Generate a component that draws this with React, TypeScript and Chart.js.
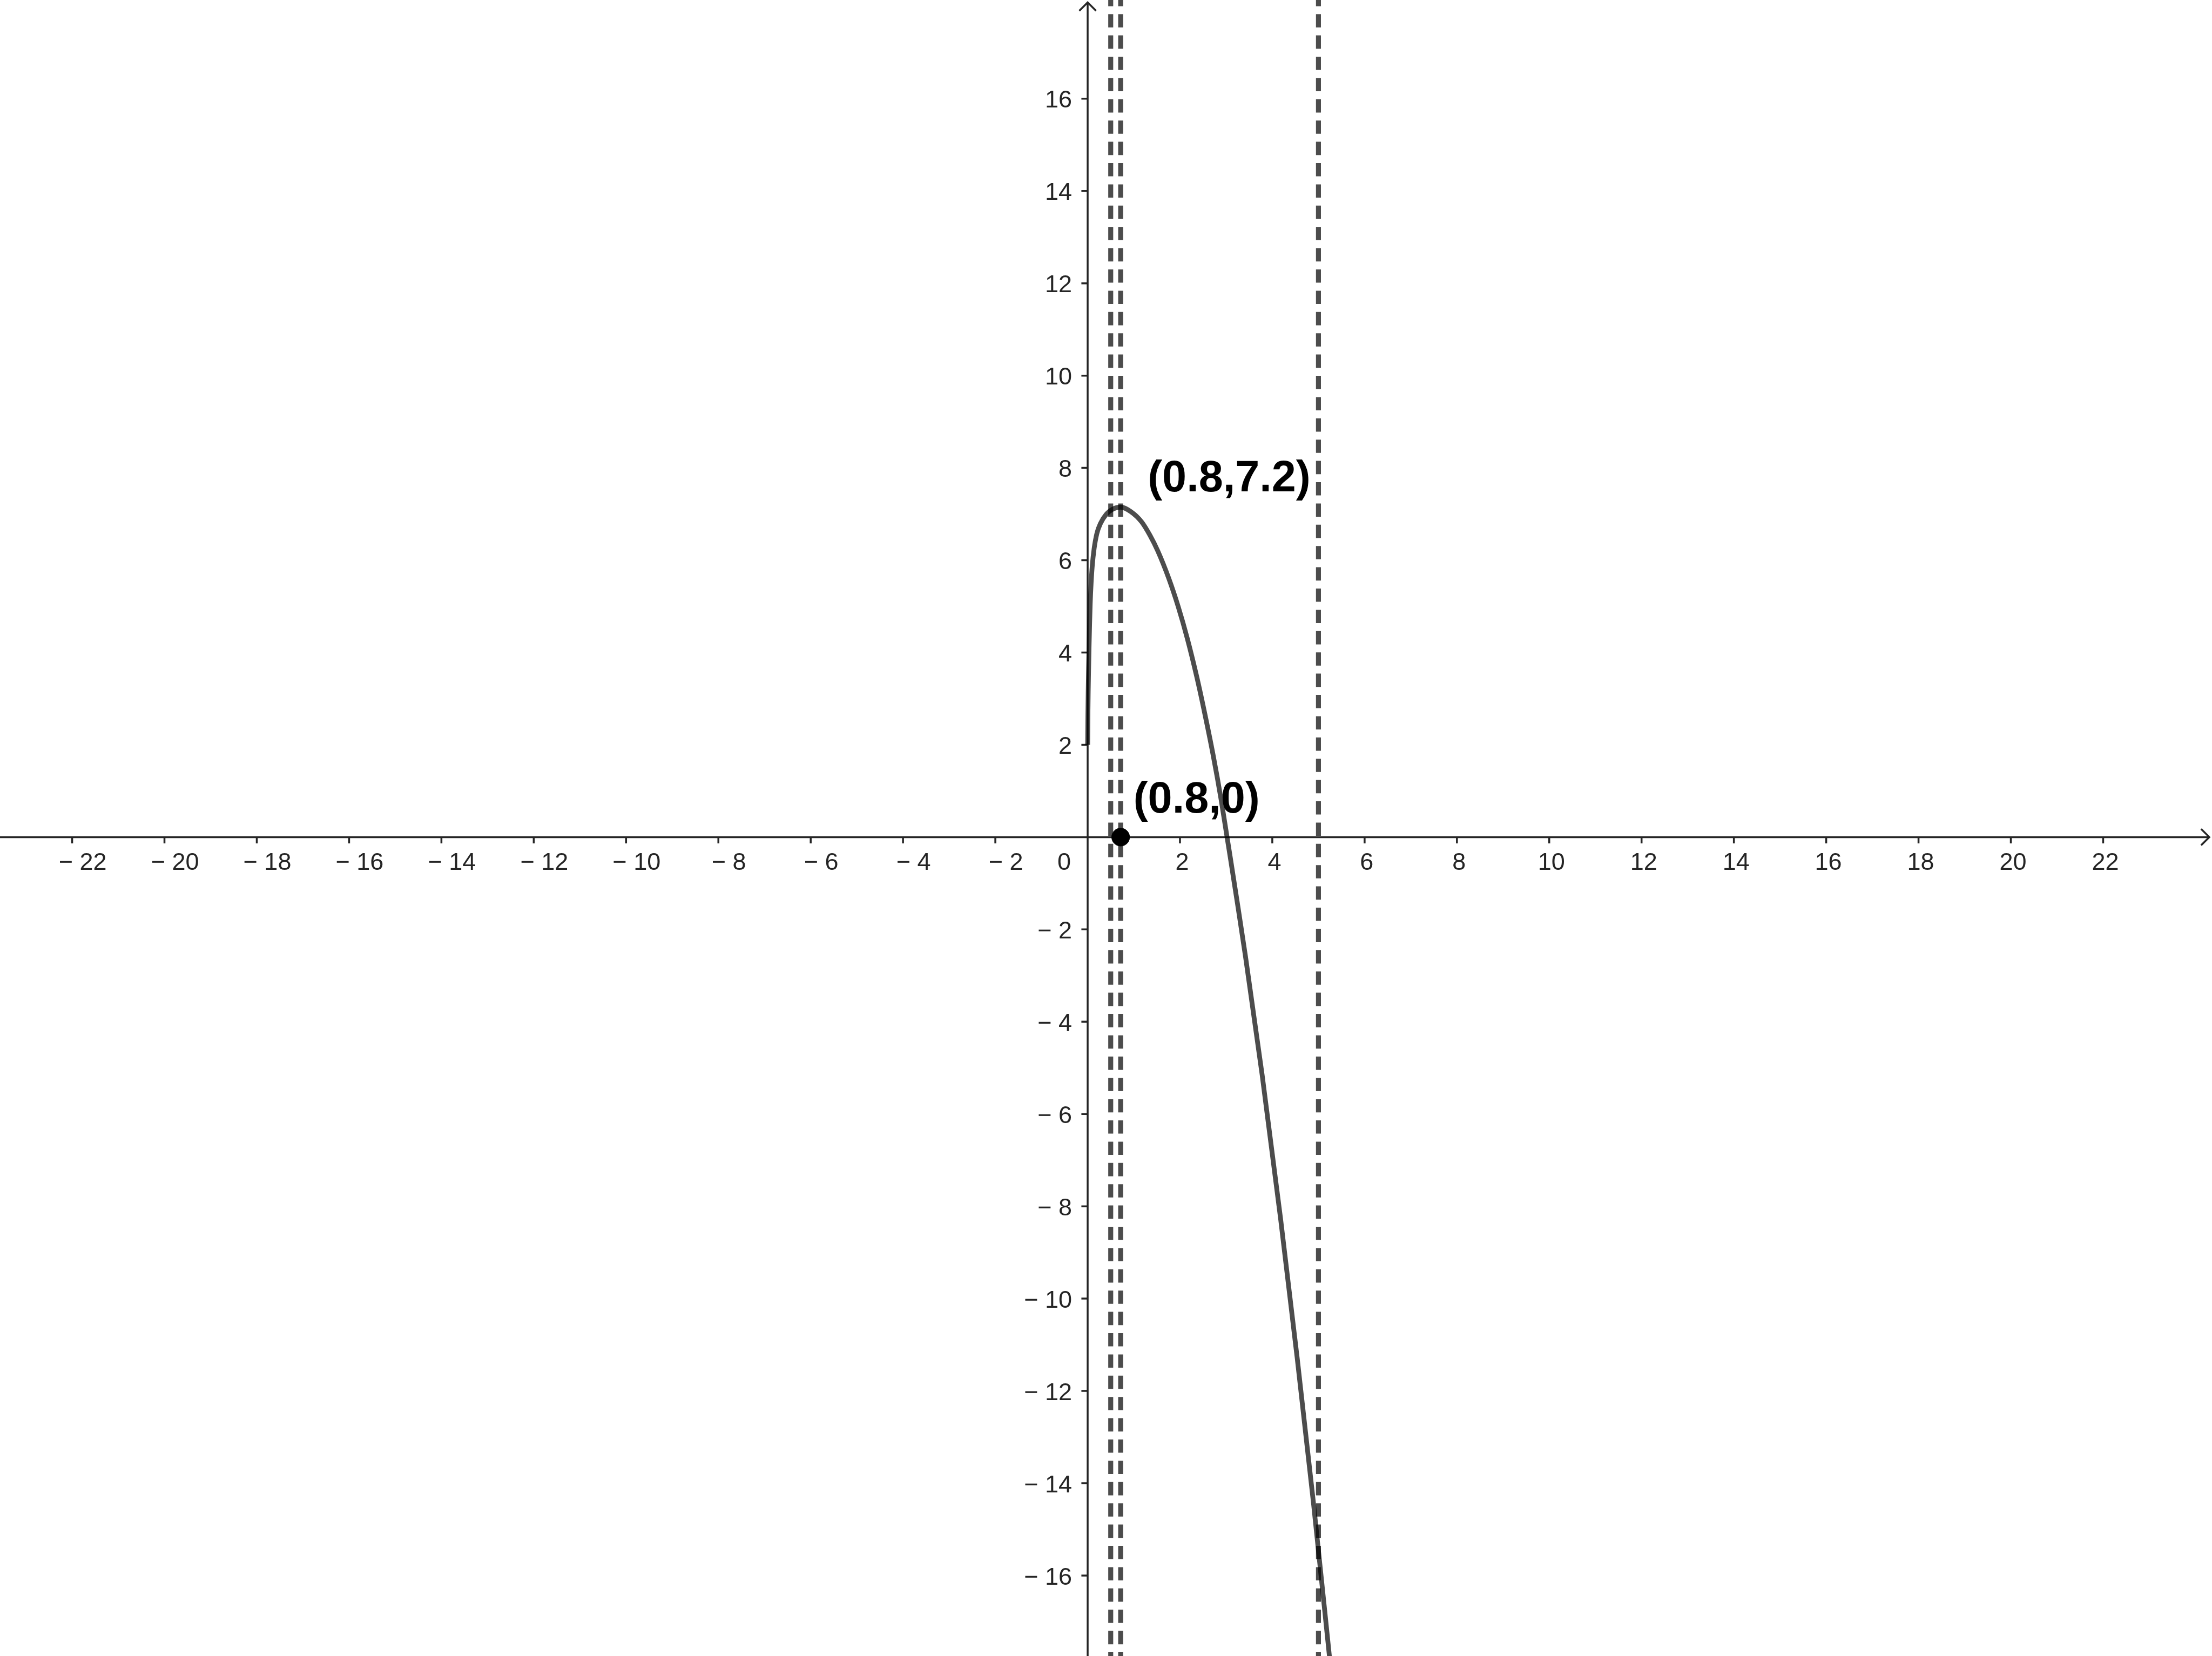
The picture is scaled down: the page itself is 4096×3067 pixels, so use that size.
import React, { useEffect, useRef } from "react";
import { Chart, registerables } from "chart.js";

Chart.register(...registerables);

// ---- data ----
const xRange = [-23.563, 24.358];
const yRange = [-17.744, 18.139];

const curveX = [0, 0.005, 0.012, 0.02, 0.03, 0.042, 0.055, 0.075, 0.1, 0.14, 0.2, 0.28, 0.4, 0.55, 0.715, 0.94, 1.17, 1.35, 1.52, 1.76, 1.96, 2.16, 2.36, 2.52, 2.72, 2.89, 3.02, 3.09, 3.23, 3.42, 3.78, 4.18, 4.54, 4.89, 5.24];
const curveY = [2, 2.6, 3.15, 3.6, 4.1, 4.6, 5.05, 5.5, 5.88, 6.25, 6.58, 6.8, 6.99, 7.11, 7.15, 7.05, 6.83, 6.54, 6.2, 5.6, 5.0, 4.3, 3.49, 2.76, 1.77, 0.82, 0.0, -0.44, -1.34, -2.59, -5.15, -8.27, -11.29, -14.41, -17.77];

const dashedLineX = [0.5, 0.715, 5.0];

const pointX = [0.715];
const pointY = [0];

const annotationText = ["(0.8,7.2)", "(0.8,0)"];
const annotationX = [0.715, 0.715];
const annotationY = [7.15, 0];

const xTicks = [-22, -20, -18, -16, -14, -12, -10, -8, -6, -4, -2, 2, 4, 6, 8, 10, 12, 14, 16, 18, 20, 22];
const yTicks = [-16, -14, -12, -10, -8, -6, -4, -2, 2, 4, 6, 8, 10, 12, 14, 16];
const originLabel = "0";

// ---- styles ----
const W = 4096;
const H = 3067;
const AXIS_COLOR = "#252525";
const LINE_COLOR = "rgba(0,0,0,0.7)";
const TICK_FONT = '45px "Liberation Sans", Arial, sans-serif';
const LABEL_FONT = 'bold 81px "Liberation Sans", Arial, sans-serif';
const annotationOffsets = [
  [50, -29],
  [23.5, -45],
];

const fmt = (v: number) => (v < 0 ? "\u2212 " + Math.abs(v) : String(v));

const ggbPlugin = {
  id: "ggbAxes",
  beforeDatasetsDraw(chart: any) {
    const { ctx, scales } = chart;
    const xs = scales.x;
    const ys = scales.y;
    const x0 = xs.getPixelForValue(0);
    const y0 = ys.getPixelForValue(0);
    ctx.save();
    ctx.strokeStyle = AXIS_COLOR;
    ctx.fillStyle = AXIS_COLOR;
    ctx.lineWidth = 3.5;
    ctx.lineCap = "butt";
    ctx.lineJoin = "miter";

    // x axis + arrow
    const tipX = W - 5;
    ctx.beginPath();
    ctx.moveTo(0, y0);
    ctx.lineTo(tipX, y0);
    ctx.stroke();
    ctx.beginPath();
    ctx.moveTo(tipX - 15.2, y0 - 15.2);
    ctx.lineTo(tipX, y0);
    ctx.lineTo(tipX - 15.2, y0 + 15.2);
    ctx.stroke();

    // y axis + arrow
    const tipY = 4.5;
    ctx.beginPath();
    ctx.moveTo(x0, H);
    ctx.lineTo(x0, tipY);
    ctx.stroke();
    ctx.beginPath();
    ctx.moveTo(x0 - 15.5, tipY + 15.5);
    ctx.lineTo(x0, tipY);
    ctx.lineTo(x0 + 15.5, tipY + 15.5);
    ctx.stroke();

    // ticks
    ctx.beginPath();
    xTicks.forEach((v) => {
      const px = xs.getPixelForValue(v);
      ctx.moveTo(px, y0);
      ctx.lineTo(px, y0 + 11.6);
    });
    yTicks.forEach((v) => {
      const py = ys.getPixelForValue(v);
      ctx.moveTo(x0, py);
      ctx.lineTo(x0 - 11.6, py);
    });
    ctx.stroke();

    // tick labels
    ctx.font = TICK_FONT;
    ctx.textBaseline = "alphabetic";
    xTicks.forEach((v) => {
      const px = xs.getPixelForValue(v);
      ctx.textAlign = "center";
      ctx.fillText(fmt(v), px + (v < 0 ? 19.5 : 4), y0 + 60.3);
    });
    ctx.textAlign = "right";
    yTicks.forEach((v) => {
      const py = ys.getPixelForValue(v);
      ctx.fillText(fmt(v), x0 - 29, py + 16.6);
    });
    ctx.fillText(originLabel, x0 - 31, y0 + 60.3);
    ctx.restore();
  },
  afterDatasetsDraw(chart: any) {
    const { ctx, scales } = chart;
    ctx.save();
    ctx.fillStyle = "#000000";
    ctx.font = LABEL_FONT;
    ctx.textAlign = "left";
    ctx.textBaseline = "alphabetic";
    annotationText.forEach((t, i) => {
      const px = scales.x.getPixelForValue(annotationX[i]);
      const py = scales.y.getPixelForValue(annotationY[i]);
      ctx.fillText(t, px + annotationOffsets[i][0], py + annotationOffsets[i][1]);
    });
    ctx.restore();
  },
};

export default function App() {
  const ref = useRef<HTMLCanvasElement | null>(null);

  useEffect(() => {
    document.body.style.margin = "0";
    const canvas = ref.current;
    if (!canvas) return;

    const pointData = pointX.map((x, i) => ({ x, y: pointY[i] }));
    const curveData = curveX.map((x, i) => ({ x, y: curveY[i] }));
    const dashedSets = dashedLineX.map((x) => ({
      data: [
        { x, y: yRange[1] },
        { x, y: yRange[0] },
      ],
      showLine: true,
      borderColor: LINE_COLOR,
      borderWidth: 9.2,
      borderDash: [24.6, 14.8],
      borderDashOffset: 13.2,
      borderCapStyle: "butt",
      pointRadius: 0,
      fill: false,
    }));

    const chart = new Chart(canvas, {
      type: "scatter",
      data: {
        datasets: [
          {
            data: pointData,
            showLine: false,
            pointRadius: 16.6,
            pointBackgroundColor: "#000000",
            pointBorderColor: "#000000",
            pointBorderWidth: 1,
            clip: false,
          },
          {
            data: curveData,
            showLine: true,
            borderColor: LINE_COLOR,
            borderWidth: 8.8,
            cubicInterpolationMode: "monotone",
            borderCapStyle: "butt",
            borderJoinStyle: "round",
            pointRadius: 0,
            fill: false,
          },
          ...dashedSets,
        ] as any,
      },
      options: {
        responsive: false,
        animation: false,
        devicePixelRatio: 1,
        events: [],
        layout: { padding: 0, autoPadding: false },
        plugins: {
          legend: { display: false },
          tooltip: { enabled: false },
        },
        scales: {
          x: { type: "linear", min: xRange[0], max: xRange[1], display: false },
          y: { type: "linear", min: yRange[0], max: yRange[1], display: false },
        },
      } as any,
      plugins: [ggbPlugin as any],
    });

    return () => chart.destroy();
  }, []);

  return (
    <div style={{ width: W, height: H, background: "#ffffff" }}>
      <canvas ref={ref} width={W} height={H} style={{ display: "block", width: W, height: H }} />
    </div>
  );
}
